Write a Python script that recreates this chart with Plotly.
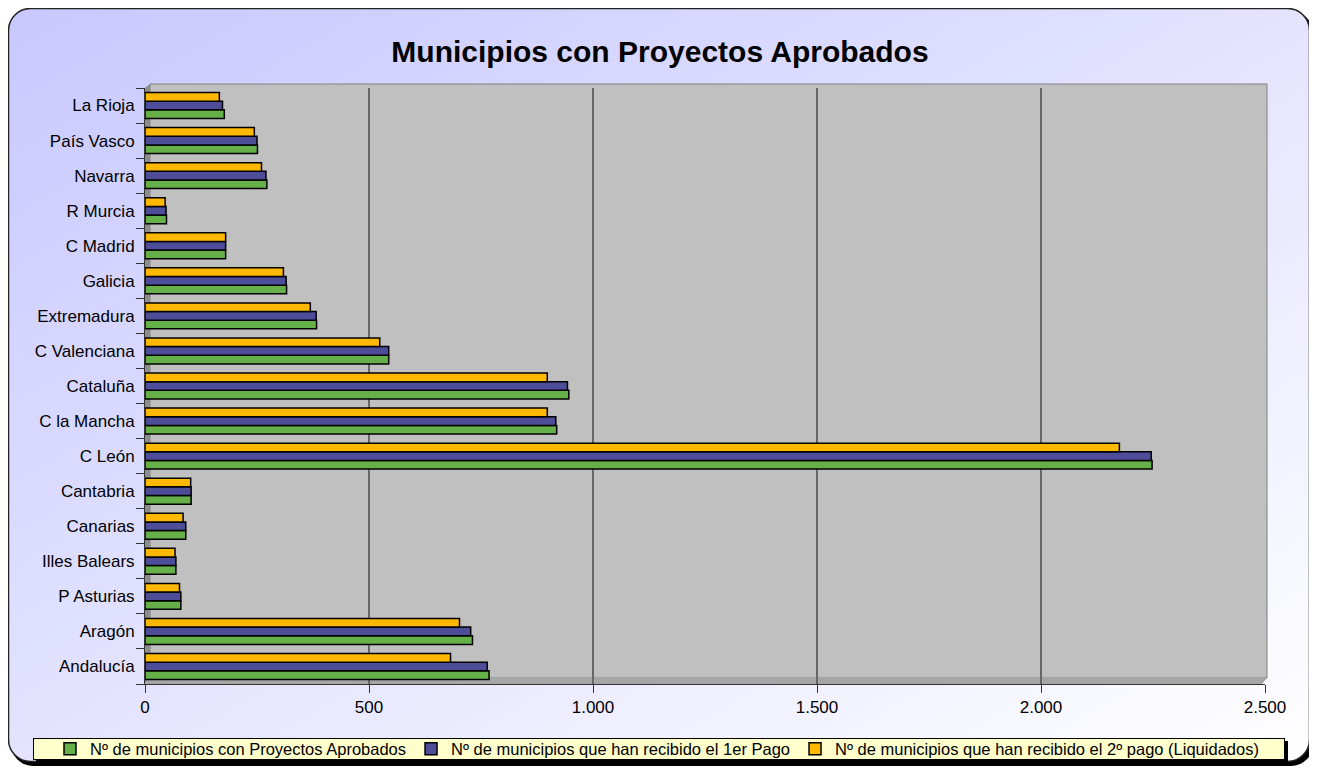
import base64
import plotly.graph_objects as go

# Comunidades autónomas (de abajo a arriba)
regiones = ["Andalucía", "Aragón", "P Asturias", "Illes Balears", "Canarias", "Cantabria",
            "C León", "C la Mancha", "Cataluña", "C Valenciana", "Extremadura", "Galicia",
            "C Madrid", "R Murcia", "Navarra", "País Vasco", "La Rioja"]

# Nº de municipios con Proyectos Aprobados
aprobados = [768, 731, 80, 69, 91, 103, 2248, 919, 946, 544, 383, 316, 180, 48, 272, 251, 177]
# Nº de municipios que han recibido el 1er Pago
primer_pago = [764, 727, 80, 69, 91, 103, 2246, 917, 943, 544, 382, 315, 180, 47, 270, 250, 173]
# Nº de municipios que han recibido el 2º pago (Liquidados)
liquidados = [682, 702, 77, 67, 85, 102, 2175, 898, 898, 524, 369, 309, 180, 45, 260, 244, 166]

x_ticks = [0, 500, 1000, 1500, 2000, 2500]

# la página html lleva 8px de margen en el body, así que la figura se
# dibuja 8px más pequeña y todo se mide en coordenadas de pantalla
OFF = 8
W, H = 1317 - OFF, 773 - OFF
plot_l, plot_r, plot_t, plot_b = 145, 1265, 88, 684      # en pantalla
ML, MR = plot_l - OFF, 1317 - plot_r
MT, MB = plot_t - OFF, 773 - plot_b
PW, PH = W - ML - MR, H - MT - MB

# fondo: marco redondeado con degradado, paredes 3D y caja de la leyenda
svg = f'''<svg xmlns="http://www.w3.org/2000/svg" width="{W}" height="{H}" viewBox="0 0 {W} {H}" preserveAspectRatio="none">
<defs><linearGradient id="g" x1="0" y1="0" x2="1" y2="1">
<stop offset="0" stop-color="#C8C8FF"/><stop offset="1" stop-color="#FFFFFF"/></linearGradient></defs>
<g transform="translate(-{OFF},-{OFF})">
<rect x="11" y="11" width="1302" height="755" rx="22" fill="#000"/>
<rect x="8.5" y="8.5" width="1301" height="753" rx="22" fill="url(#g)" stroke="#222" stroke-width="1.5"/>
<polygon points="150,84 1267,84 1267,678 150,678" fill="#C0C0C0" stroke="#808080"/>
<polygon points="145,88 150,84 150,678 145,684" fill="#8C8C8C"/>
<polygon points="145,684 150,678 1267,678 1262,684" fill="#A6A6A6"/>
<rect x="36" y="741" width="1252" height="22" fill="#000"/>
<rect x="33.5" y="738.5" width="1251" height="21" fill="#FFFFCC" stroke="#000" stroke-width="1"/>
</g>
</svg>'''
bg_uri = "data:image/svg+xml;base64," + base64.b64encode(svg.encode("utf-8")).decode("ascii")

fig = go.Figure()
series = [
    ("Nº de municipios con Proyectos Aprobados", aprobados, "#66B04A"),
    ("Nº de municipios que han recibido el 1er Pago", primer_pago, "#4D4D99"),
    ("Nº de municipios que han recibido el 2º pago (Liquidados)", liquidados, "#FFB800"),
]
for name, vals, col in series:
    fig.add_trace(go.Bar(
        y=regiones, x=vals, name=name, orientation="h",
        marker=dict(color=col, line=dict(color="black", width=1.5)),
    ))

fig.update_layout(
    width=W, height=H,
    margin=dict(l=ML, r=MR, t=MT, b=MB, autoexpand=False),
    paper_bgcolor="white",
    plot_bgcolor="rgba(0,0,0,0)",
    font=dict(family="Arial, Liberation Sans, sans-serif", color="black"),
    separators=",.",
    barmode="group", bargap=0.26, bargroupgap=0,
    title=dict(text="<b>Municipios con Proyectos Aprobados</b>",
               x=(660 - OFF) / W, xanchor="center", y=1 - (51 - OFF) / H, yanchor="middle",
               font=dict(size=30, color="black")),
    showlegend=True,
    legend=dict(orientation="h", traceorder="normal",
                x=(50 - plot_l) / PW, xanchor="left",
                y=(plot_b - 749) / PH, yanchor="middle",
                bgcolor="rgba(0,0,0,0)", borderwidth=0,
                itemwidth=30, font=dict(size=16.5)),
    images=[dict(source=bg_uri, xref="paper", yref="paper",
                 x=-ML / PW, y=(H - MB) / PH, sizex=W / PW, sizey=H / PH,
                 xanchor="left", yanchor="top", sizing="stretch", layer="below")],
)

fig.update_xaxes(range=[0, 2500], tickvals=x_ticks, tickformat=",d",
                 showgrid=True, gridcolor="#666666", gridwidth=1.5,
                 showline=True, linecolor="#333333", linewidth=1,
                 ticks="outside", ticklen=8, tickcolor="#333333",
                 tickfont=dict(size=17), zeroline=False, automargin=False)
fig.update_yaxes(showgrid=False, showline=True, linecolor="#333333", linewidth=1,
                 ticks="outside", ticklen=8, tickcolor="#333333", tickson="boundaries",
                 ticklabelstandoff=6, tickfont=dict(size=17), automargin=False)

fig.write_html("out.html")
